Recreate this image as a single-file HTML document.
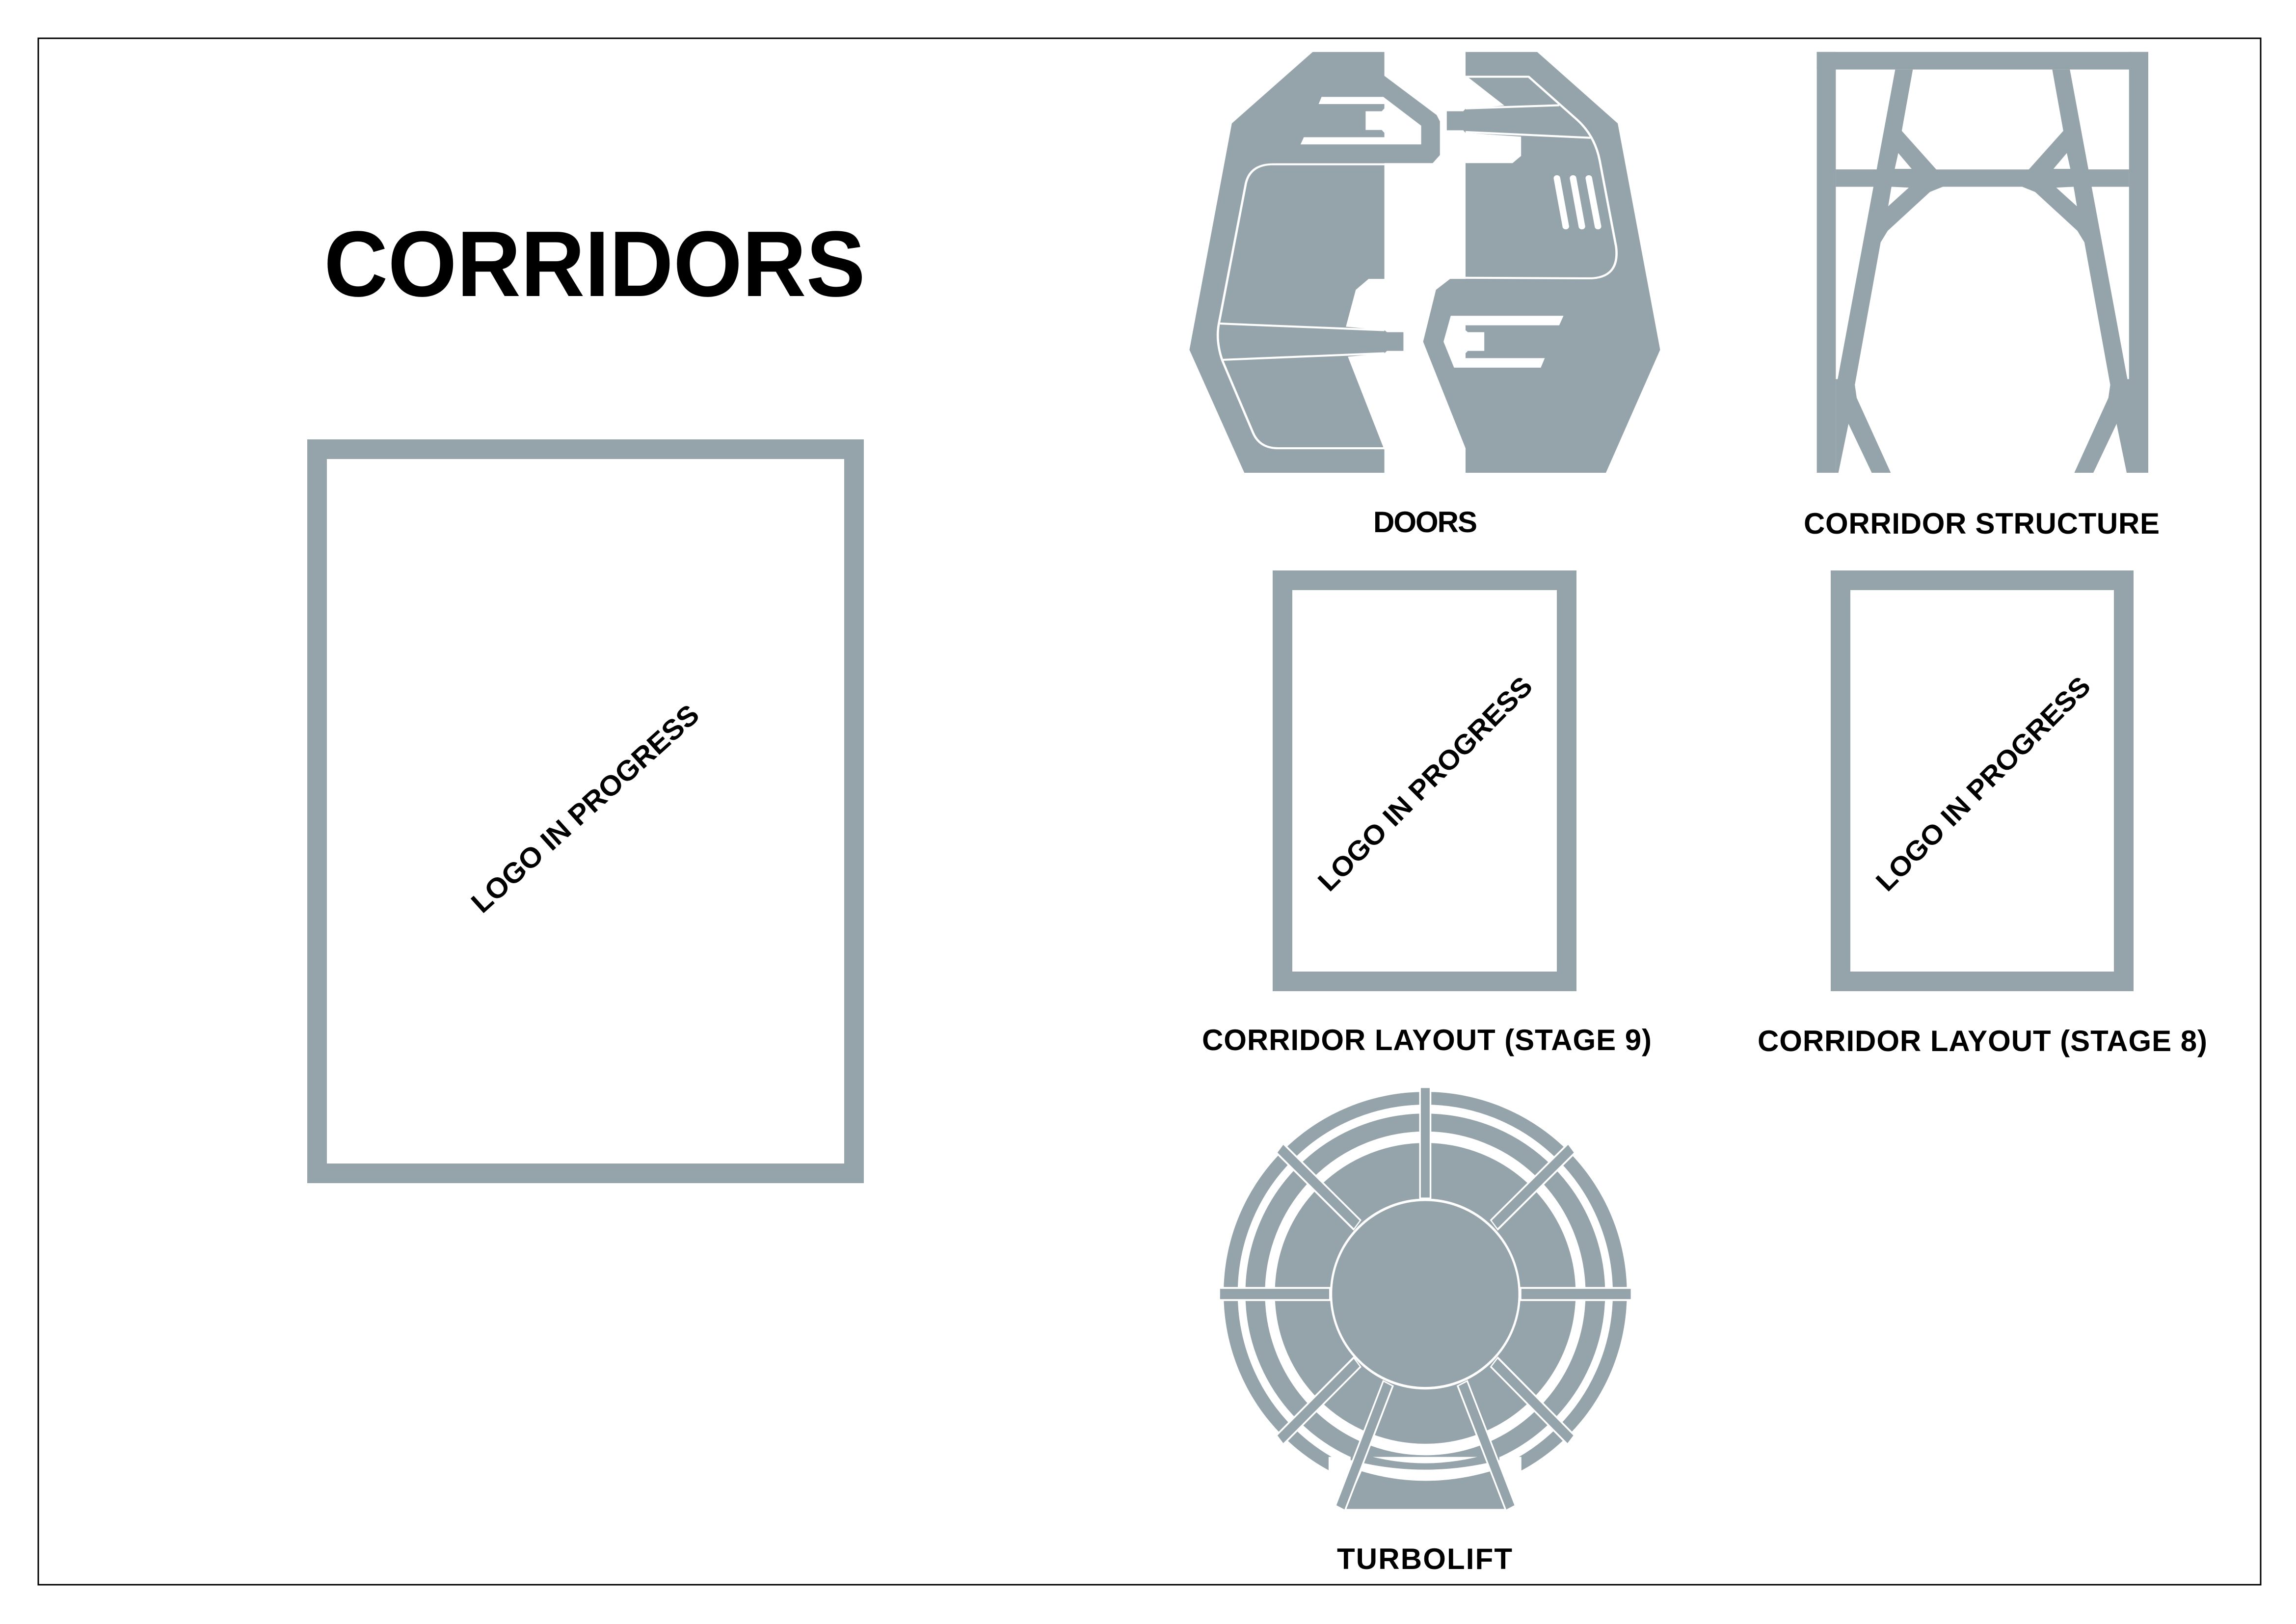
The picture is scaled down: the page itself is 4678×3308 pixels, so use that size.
<!DOCTYPE html>
<html><head><meta charset="utf-8"><style>
html,body{margin:0;padding:0;background:#fff}
svg{display:block}
</style></head><body>
<svg width="4678" height="3308" viewBox="0 0 4678 3308" xmlns="http://www.w3.org/2000/svg">
<rect x="0" y="0" width="4678" height="3308" fill="#fff"/>
<rect x="78" y="78" width="4528" height="3150" fill="none" stroke="#000" stroke-width="3"/>

<text x="660" y="603" font-family="Liberation Sans, sans-serif" font-weight="bold" font-size="190" textLength="1103" lengthAdjust="spacingAndGlyphs">CORRIDORS</text>

<!-- big box -->
<rect x="646" y="915" width="1094" height="1475" fill="none" stroke="#95a4ab" stroke-width="40"/>
<text transform="translate(1192,1647) rotate(-42)" text-anchor="middle" y="20" font-family="Liberation Sans, sans-serif" font-weight="bold" font-size="58" textLength="600" lengthAdjust="spacingAndGlyphs">LOGO IN PROGRESS</text>

<!-- small boxes -->
<rect x="2613" y="1182" width="579" height="817" fill="none" stroke="#95a4ab" stroke-width="40"/>
<text transform="translate(2903,1596) rotate(-45)" text-anchor="middle" y="20" font-family="Liberation Sans, sans-serif" font-weight="bold" font-size="56" textLength="590" lengthAdjust="spacingAndGlyphs">LOGO IN PROGRESS</text>
<rect x="3750" y="1182" width="577" height="817" fill="none" stroke="#95a4ab" stroke-width="40"/>
<text transform="translate(4040,1596) rotate(-45)" text-anchor="middle" y="20" font-family="Liberation Sans, sans-serif" font-weight="bold" font-size="56" textLength="590" lengthAdjust="spacingAndGlyphs">LOGO IN PROGRESS</text>

<g font-family="Liberation Sans, sans-serif" font-weight="bold" font-size="60" lengthAdjust="spacingAndGlyphs">
<text x="2798" y="1084" textLength="212">DOORS</text>
<text x="3675" y="1087" textLength="725">CORRIDOR STRUCTURE</text>
<text x="2449" y="2139" textLength="916">CORRIDOR LAYOUT (STAGE 9)</text>
<text x="3581" y="2141" textLength="916">CORRIDOR LAYOUT (STAGE 8)</text>
<text x="2724" y="3196" textLength="357">TURBOLIFT</text>
</g>

<!-- DOORS -->
<g transform="translate(2400,80) scale(0.6697,0.5867)" fill="#95a4ab">
<polygon points="410,44 628,44 628,127 787,263 797,285 797,402 775,430 628,430 628,832 580,832 541,870 511,998 628,1010 636,1017 686,1017 686,1082 636,1082 628,1090 517,1102 625,1417 628,1425 628,1505 202,1505 35,1078 164,292"/>
<polygon fill="#fff" points="437,200 625,200 740,300 740,365 373,365 383,340 628,340 628,325 620,315 571,315 571,250 620,250 628,240 628,225 428,225"/>
<path d="M628,434 L290,434 Q215,434 205,510 L124,990 Q115,1050 135,1115 L228,1365 Q248,1420 305,1420 L628,1420" fill="none" stroke="#fff" stroke-width="7"/>
<line x1="128" y1="987" x2="628" y2="1010" stroke="#fff" stroke-width="7"/>
<line x1="133" y1="1113" x2="628" y2="1090" stroke="#fff" stroke-width="7"/>

<polygon points="875,44 1093,44 1338,292 1467,1078 1302,1505 875,1505 875,1420 746,1050 785,870 828,832 875,832 875,430 1018,430 1044,405 1044,338 875,325 868,316 818,316 818,250 868,250 875,241 993,230 884,133 875,127"/>
<polygon fill="#fff" points="830,960 1173,960 1160,993 875,993 875,1010 882,1017 932,1017 932,1082 882,1082 875,1090 875,1107 1116,1107 1104,1140 840,1140 808,1050"/>
<path d="M875,130 L1067,130 L1215,280 Q1268,335 1283,420 L1333,720 Q1345,830 1250,830 L875,828" fill="none" stroke="#fff" stroke-width="7"/>
<line x1="875" y1="240" x2="1160" y2="229" stroke="#fff" stroke-width="7"/>
<line x1="875" y1="322" x2="1255" y2="342" stroke="#fff" stroke-width="7"/>
<g stroke="#fff" stroke-width="20" stroke-linecap="round">
<line x1="1153" y1="482" x2="1180" y2="650"/>
<line x1="1202" y1="482" x2="1229" y2="650"/>
<line x1="1250" y1="482" x2="1278" y2="650"/>
</g>
</g>

<!-- STRUCTURE -->
<g transform="translate(3650,80) scale(0.4783,0.5867)" fill="#95a4ab">
<rect x="108" y="44" width="1412" height="61"/>
<rect x="108" y="44" width="81" height="1461"/>
<rect x="1438" y="44" width="82" height="1461"/>
<rect x="189" y="452" width="1249" height="60"/>
<g id="leg">
<polygon points="442,105 517,105 470,318 617,452 645,512 590,530 410,665 380,705 270,1200 278,1245 423,1505 342,1505 243,1335 200,1505 189,1505 189,1180 197,1180"/>
<polygon fill="#fff" points="455,395 512,450 440,450"/>
<polygon fill="#fff" points="426,512 500,515 412,580"/>
</g>
<use href="#leg" transform="translate(1628,0) scale(-1,1)"/>
<rect x="189" y="452" width="251" height="60"/>
<rect x="1188" y="452" width="250" height="60"/>
</g>

<!-- TURBOLIFT -->
<g transform="translate(2460,2200) scale(0.5612,0.6505)">
<ellipse cx="791" cy="668" rx="732" ry="631" fill="#95a4ab"/>
<ellipse cx="791" cy="668" rx="667" ry="577" fill="none" stroke="#fff" stroke-width="28"/>
<ellipse cx="791" cy="668" rx="564" ry="489" fill="none" stroke="#fff" stroke-width="36"/>
<polygon fill="#fff" points="440,1180 1140,1180 1140,1400 440,1400"/>
<path d="M560,1225 Q790,1285 1028,1225 L1083,1343 L500,1343 Z" fill="#95a4ab"/>
<path d="M520,1160 Q790,1240 1060,1160 L1060,1190 Q790,1250 520,1190 Z" fill="#95a4ab"/>
<g stroke-linecap="butt">
<g stroke="#fff" stroke-width="44">
<line x1="791" y1="25" x2="791" y2="372"/>
<line x1="46" y1="670" x2="448" y2="670"/>
<line x1="1134" y1="670" x2="1537" y2="670"/>
<line x1="265" y1="215" x2="545" y2="455"/>
<line x1="1320" y1="215" x2="1040" y2="455"/>
<line x1="265" y1="1125" x2="545" y2="882"/>
<line x1="1318" y1="1125" x2="1040" y2="882"/>
<line x1="483" y1="1338" x2="657" y2="948"/>
<line x1="1100" y1="1338" x2="925" y2="948"/>
</g>
<g stroke="#95a4ab" stroke-width="32">
<line x1="791" y1="25" x2="791" y2="368"/>
<line x1="46" y1="670" x2="442" y2="670"/>
<line x1="1140" y1="670" x2="1537" y2="670"/>
<line x1="265" y1="215" x2="542" y2="452"/>
<line x1="1320" y1="215" x2="1043" y2="452"/>
<line x1="265" y1="1125" x2="542" y2="885"/>
<line x1="1318" y1="1125" x2="1043" y2="885"/>
<line x1="483" y1="1338" x2="655" y2="952"/>
<line x1="1100" y1="1338" x2="927" y2="952"/>
</g>
</g>
<ellipse cx="791" cy="670" rx="342" ry="295" fill="#95a4ab" stroke="#fff" stroke-width="8"/>
</g>
</svg>
</body></html>
